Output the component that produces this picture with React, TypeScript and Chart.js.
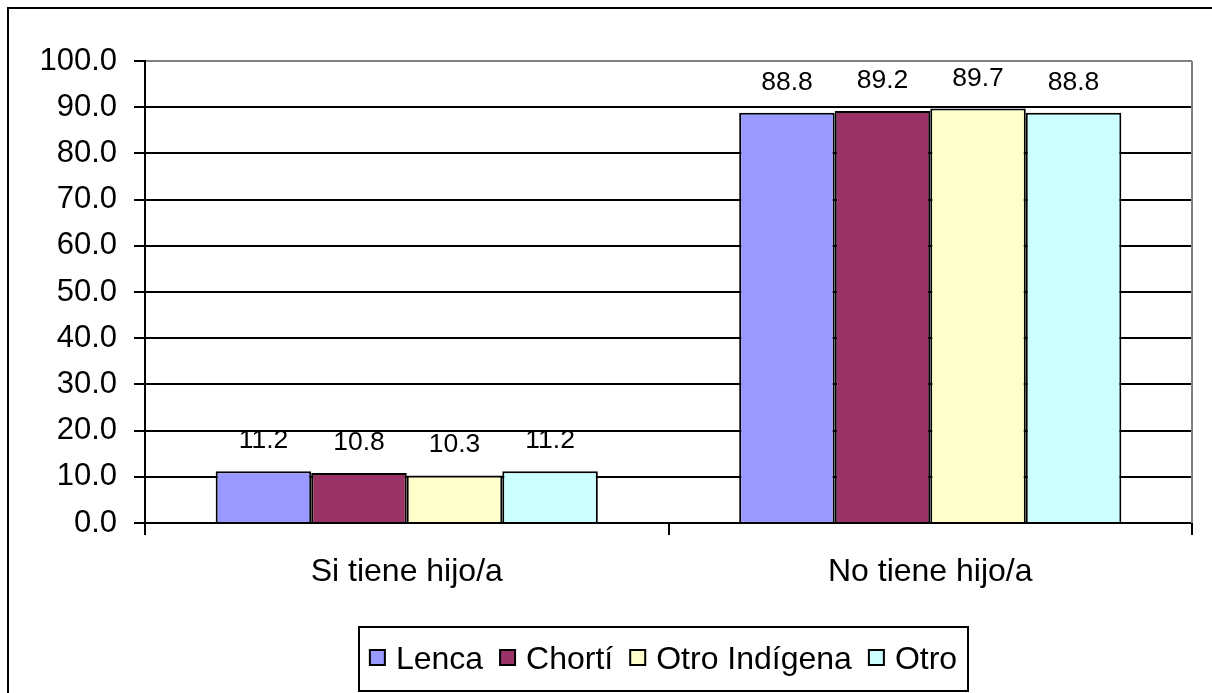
import React, { useEffect, useRef } from "react";
import { Chart, registerables } from "chart.js";

Chart.register(...registerables);

const categories = ["Si tiene hijo/a", "No tiene hijo/a"];
const seriesNames = ["Lenca", "Chortí", "Otro Indígena", "Otro"];
const lenca = [11.2, 88.8];
const chorti = [10.8, 89.2];
const otroIndigena = [10.3, 89.7];
const otro = [11.2, 88.8];
const seriesColors = ["#9999FF", "#993366", "#FFFFCC", "#CCFFFF"];
const yMin = 0;
const yMax = 100;
const yStep = 10;

const FONT = '"Liberation Sans", Arial, sans-serif';

const framePlugin = {
  id: "frame",
  beforeDraw(chart: any) {
    const ctx = chart.ctx;
    ctx.save();
    ctx.strokeStyle = "#000";
    ctx.lineWidth = 2;
    ctx.beginPath();
    ctx.moveTo(8, chart.height);
    ctx.lineTo(8, 8);
    ctx.lineTo(chart.width, 8);
    ctx.stroke();
    ctx.restore();
  },
  beforeDatasetsDraw(chart: any) {
    const { ctx, chartArea } = chart;
    ctx.save();
    ctx.strokeStyle = "#808080";
    ctx.lineWidth = 2;
    ctx.beginPath();
    ctx.moveTo(chartArea.right, chartArea.top);
    ctx.lineTo(chartArea.right, chartArea.bottom);
    ctx.stroke();
    ctx.restore();
  },
  afterDatasetsDraw(chart: any) {
    const ctx = chart.ctx;
    ctx.save();
    ctx.font = `26.5px ${FONT}`;
    ctx.fillStyle = "#000";
    ctx.textAlign = "center";
    ctx.textBaseline = "alphabetic";
    chart.data.datasets.forEach((ds: any, di: number) => {
      const meta = chart.getDatasetMeta(di);
      meta.data.forEach((el: any, i: number) => {
        const v = ds.data[i] as number;
        ctx.fillText(v.toFixed(1), el.x, el.y - 23);
      });
    });
    ctx.restore();
  },
  afterDraw(chart: any) {
    const ctx = chart.ctx;
    ctx.save();
    ctx.font = `32px ${FONT}`;
    const sq = 15;
    const g1 = 11;
    const g2 = 17;
    const widths = seriesNames.map((n) => ctx.measureText(n).width);
    const content =
      widths.reduce((a, b) => a + b, 0) + seriesNames.length * (sq + g1) + (seriesNames.length - 1) * g2;
    const boxL = 359;
    const boxR = 968;
    const boxT = 627;
    const boxB = 691;
    ctx.strokeStyle = "#000";
    ctx.lineWidth = 2;
    ctx.strokeRect(boxL, boxT, boxR - boxL, boxB - boxT);
    let x = (boxL + boxR) / 2 - content / 2;
    const baseline = 669;
    const sqTop = 650;
    seriesNames.forEach((n, i) => {
      ctx.fillStyle = seriesColors[i];
      ctx.fillRect(x, sqTop, sq, sq);
      ctx.lineWidth = 2;
      ctx.strokeStyle = "#000";
      ctx.strokeRect(x, sqTop, sq, sq);
      x += sq + g1;
      ctx.fillStyle = "#000";
      ctx.textAlign = "left";
      ctx.textBaseline = "alphabetic";
      ctx.fillText(n, x, baseline);
      x += widths[i] + g2;
    });
    ctx.restore();
  },
};

export default function App() {
  const ref = useRef<HTMLCanvasElement | null>(null);
  useEffect(() => {
    if (!ref.current) return;
    const seriesData = [lenca, chorti, otroIndigena, otro];
    const chart = new Chart(ref.current, {
      type: "bar",
      data: {
        labels: categories,
        datasets: seriesNames.map((name, i) => ({
          label: name,
          data: seriesData[i],
          backgroundColor: seriesColors[i],
          borderColor: "#000",
          borderWidth: 2,
          categoryPercentage: 0.73,
          barPercentage: 1,
        })),
      },
      options: {
        animation: false,
        responsive: false,
        maintainAspectRatio: false,
        layout: { padding: { top: 61, left: 0, right: 20, bottom: 0 } },
        plugins: {
          legend: { display: false },
          tooltip: { enabled: false },
          title: { display: false },
        },
        scales: {
          x: {
            type: "category",
            offset: true,
            grid: {
              offset: true,
              drawOnChartArea: false,
              drawTicks: true,
              tickLength: 12,
              color: "#000",
              lineWidth: 2,
            },
            border: { color: "#000", width: 2 },
            ticks: {
              color: "#000",
              font: { family: FONT, size: 32 },
              padding: 18,
              maxRotation: 0,
            },
            afterFit: (scale: any) => {
              scale.height = 170;
            },
          },
          y: {
            min: yMin,
            max: yMax,
            grid: {
              color: (c: any) => (c.tick && c.tick.value === yMax ? "#808080" : "#000"),
              tickColor: "#000",
              lineWidth: 2,
              tickLength: 11,
            },
            border: { color: "#000", width: 2 },
            ticks: {
              stepSize: yStep,
              color: "#000",
              font: { family: FONT, size: 31 },
              padding: 17,
              callback: (v: any) => Number(v).toFixed(1),
            },
            afterFit: (scale: any) => {
              scale.width = 145;
            },
          },
        },
      } as any,
      plugins: [framePlugin],
    });
    return () => chart.destroy();
  }, []);
  return (
    <div style={{ position: "absolute", left: 0, top: 0, width: 1212, height: 693, background: "#fff" }}>
      <canvas ref={ref} width={1212} height={693} style={{ display: "block", width: 1212, height: 693 }} />
    </div>
  );
}
